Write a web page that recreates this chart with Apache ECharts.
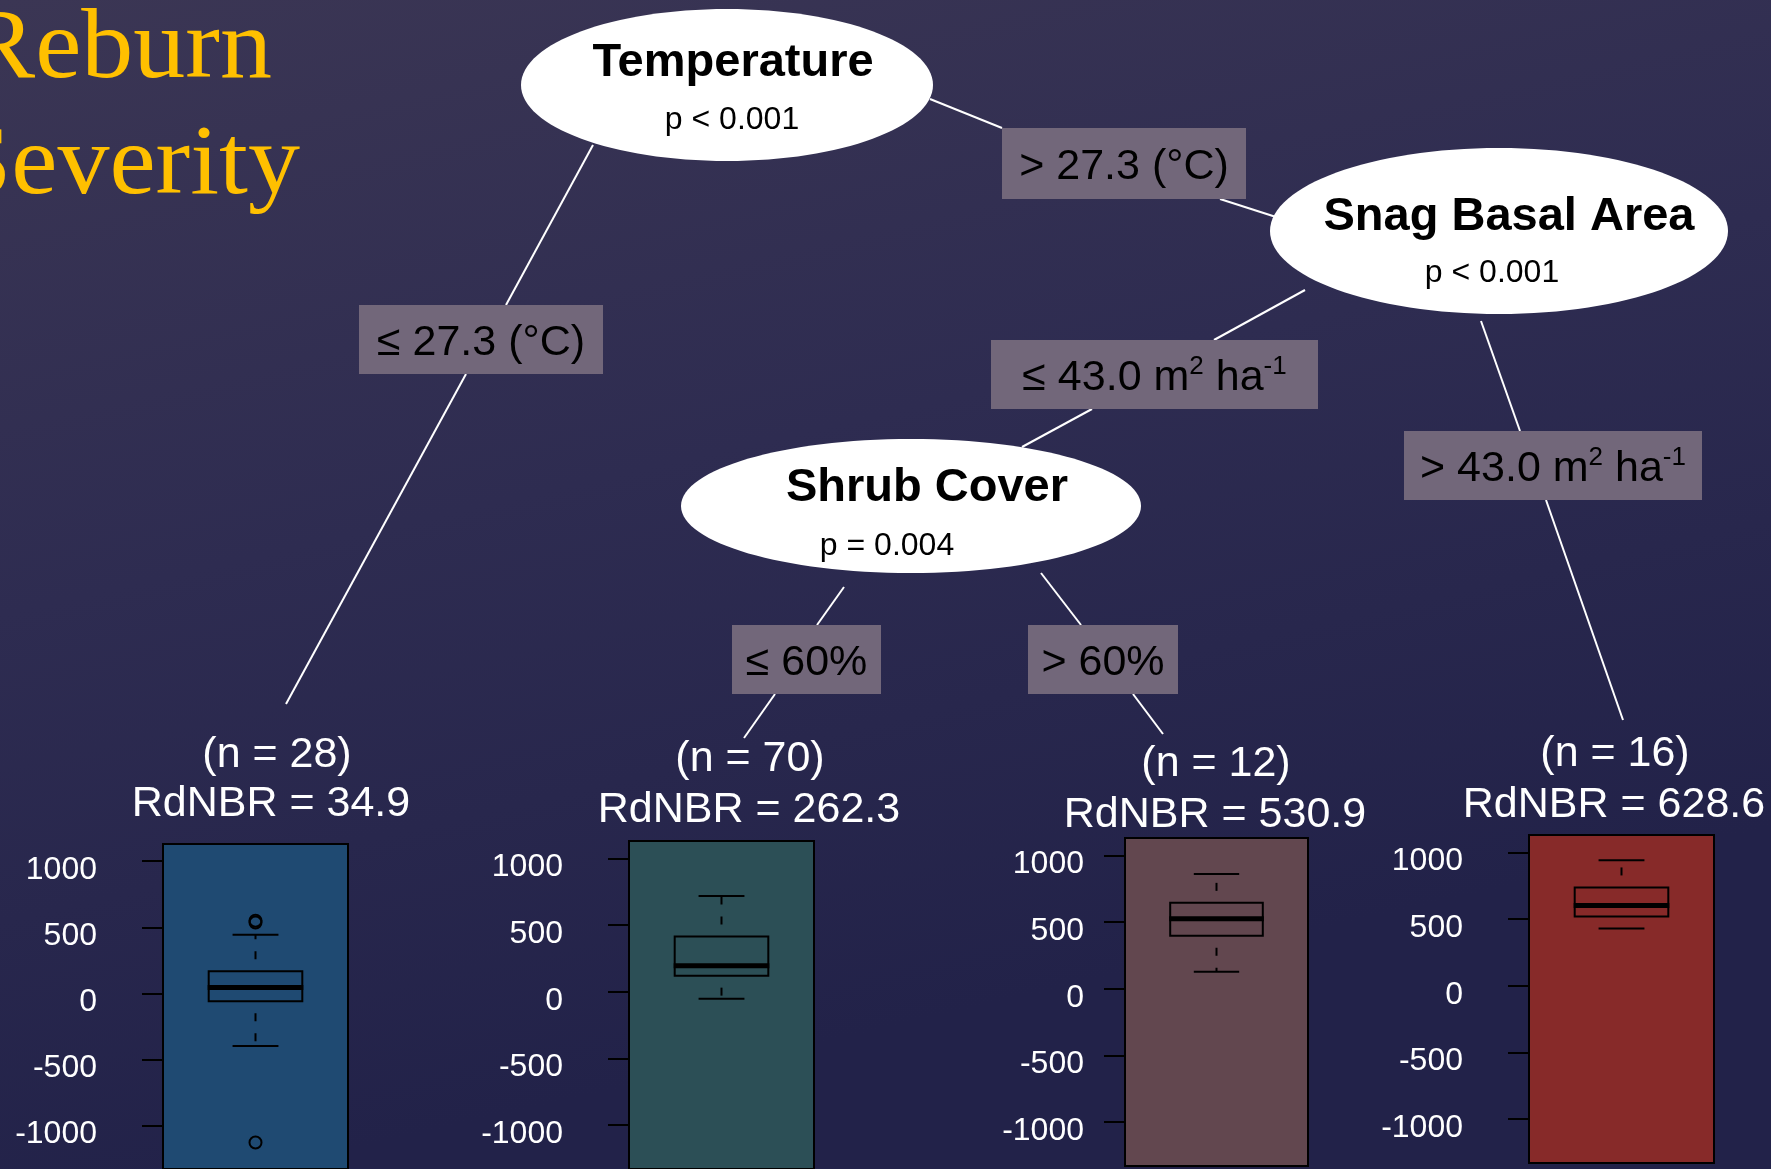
<!DOCTYPE html>
<html>
<head>
<meta charset="utf-8">
<title>Reburn Severity</title>
<script src="https://cdn.jsdelivr.net/npm/echarts@6/dist/echarts.min.js"></script>
<style>
  html, body { margin: 0; padding: 0; background: #2e2c50; }
  #chart { width: 1771px; height: 1169px; }
</style>
</head>
<body>
<div id="chart"></div>
<script>
// ---- Terminal node data (RdNBR distributions) ----
const leafN = [28, 70, 12, 16];
const leafMean = [34.9, 262.3, 530.9, 628.6];
// five-number summaries per terminal node
const whiskerLow  = [-398, -53, 127, 429];
const quartile1   = [-60, 121, 397, 519];
const medians     = [45, 196, 524, 601];
const quartile3   = [168, 415, 644, 737];
const whiskerHigh = [444, 717, 861, 940];
const outliers    = [[536, 549, -1128], [], [], []];
const yTicks = [-1000, -500, 0, 500, 1000];
const yRange = [-1328, 1130];

// ---- Split nodes and branch labels ----
const splitVars = ['Temperature', 'Snag Basal Area', 'Shrub Cover'];
const splitP = ['p < 0.001', 'p < 0.001', 'p = 0.004'];
const branchLabels = [
  '{t|≤ 27.3 (°C)}',
  '{t|> 27.3 (°C)}',
  '{t|≤ 43.0 m}{s|2}{t| ha}{s|-1}',
  '{t|> 43.0 m}{s|2}{t| ha}{s|-1}',
  '{t|≤ 60%}',
  '{t|> 60%}'
];
const titleLines = ['Reburn', 'Severity'];

// ---- Layout ----
const panelFill = ['#1f4a72', '#2c4f56', '#62474f', '#872a29'];
const panels = [
  { left: 163,  top: 844, width: 185, margin: 66 },
  { left: 629,  top: 841, width: 185, margin: 66 },
  { left: 1125, top: 838, width: 183, margin: 41 },
  { left: 1529, top: 835, width: 185, margin: 66 }
];
const panelHeight = 328;

const ellipses = [
  { cx: 727,  cy: 85,  rx: 206, ry: 76, ty: 63,  py: 120.5, tx: 733,  px: 732 },
  { cx: 1499, cy: 231, rx: 229, ry: 83, ty: 217, py: 273,   tx: 1509, px: 1492 },
  { cx: 911,  cy: 506, rx: 230, ry: 67, ty: 488, py: 546,   tx: 927,  px: 887 }
];
const boxes = [
  { x: 359,  y: 305, w: 244, h: 69 },
  { x: 1002, y: 128, w: 244, h: 71 },
  { x: 991,  y: 340, w: 327, h: 69 },
  { x: 1404, y: 431, w: 298, h: 69 },
  { x: 732,  y: 625, w: 149, h: 69 },
  { x: 1028, y: 625, w: 150, h: 69 }
];
const edges = [
  [593, 145, 506, 305], [466, 374, 286, 704],
  [930, 99, 1002, 128], [1220, 199, 1276, 217],
  [1305, 290, 1214, 340], [1092, 409, 1022, 447],
  [1481, 321, 1520, 431], [1546, 500, 1623, 720],
  [844, 587, 817, 625], [775, 694, 744, 738],
  [1041, 573, 1081, 625], [1133, 694, 1163, 734]
];
const leafText = [
  { x1: 277,  y1: 755, x2: 271,  y2: 804 },
  { x1: 750,  y1: 759, x2: 749,  y2: 810 },
  { x1: 1216, y1: 764, x2: 1215, y2: 815 },
  { x1: 1615, y1: 754, x2: 1614, y2: 805 }
];

const sans = '"Liberation Sans", Arial, Helvetica, sans-serif';
const chart = echarts.init(document.getElementById('chart'), null, { renderer: 'canvas' });

// ---- Graphic layer: background, title, tree ----
const graphics = [];
graphics.push({
  type: 'rect', z: -100, silent: true,
  shape: { x: 0, y: 0, width: 1771, height: 1169 },
  style: {
    fill: new echarts.graphic.LinearGradient(0, 0, 0.15, 1, [
      { offset: 0, color: '#3b3654' },
      { offset: 0.5, color: '#2e2c51' },
      { offset: 1, color: '#222249' }
    ])
  }
});
graphics.push({
  type: 'text', x: 272, y: 51, scaleX: 1.04, z: 10,
  style: { text: titleLines[0], align: 'right', verticalAlign: 'middle',
           font: '100px "Liberation Serif", "Times New Roman", serif', fill: '#ffc000' }
});
graphics.push({
  type: 'text', x: 300, y: 167, scaleX: 1.04, z: 10,
  style: { text: titleLines[1], align: 'right', verticalAlign: 'middle',
           font: '100px "Liberation Serif", "Times New Roman", serif', fill: '#ffc000' }
});
edges.forEach(e => graphics.push({
  type: 'line', z: 10, silent: true,
  shape: { x1: e[0], y1: e[1], x2: e[2], y2: e[3] },
  style: { stroke: '#ffffff', lineWidth: 2 }
}));
ellipses.forEach((el, i) => {
  graphics.push({
    type: 'ellipse', z: 11,
    shape: { cx: el.cx, cy: el.cy, rx: el.rx, ry: el.ry },
    style: { fill: '#ffffff' }
  });
  graphics.push({
    type: 'text', x: el.tx, y: el.ty, z: 12,
    style: { text: splitVars[i], align: 'center', verticalAlign: 'middle',
             font: 'bold 47px ' + sans, fill: '#000000' }
  });
  graphics.push({
    type: 'text', x: el.px, y: el.py, z: 12,
    style: { text: splitP[i], align: 'center', verticalAlign: 'middle',
             font: '32px ' + sans, fill: '#000000' }
  });
});
boxes.forEach((b, i) => {
  graphics.push({
    type: 'rect', z: 11,
    shape: { x: b.x, y: b.y, width: b.w, height: b.h },
    style: { fill: '#72677a' }
  });
  graphics.push({
    type: 'text', x: b.x + b.w / 2, y: b.y + b.h / 2 + 4, z: 12,
    style: {
      text: branchLabels[i], align: 'center', verticalAlign: 'middle',
      rich: {
        t: { fontFamily: sans, fontSize: 43, lineHeight: 50, fill: '#000000' },
        s: { fontFamily: sans, fontSize: 26, lineHeight: 40, verticalAlign: 'top', fill: '#000000' }
      }
    }
  });
});
leafText.forEach((t, i) => {
  graphics.push({
    type: 'text', x: t.x1, y: t.y1, z: 12,
    style: { text: '(n = ' + leafN[i] + ')', align: 'center', verticalAlign: 'middle',
             font: '43px ' + sans, fill: '#ffffff' }
  });
  graphics.push({
    type: 'text', x: t.x2, y: t.y2, z: 12,
    style: { text: 'RdNBR = ' + leafMean[i].toFixed(1), align: 'center', verticalAlign: 'middle',
             font: '43px ' + sans, fill: '#ffffff' }
  });
});

// ---- Boxplot drawing through the axes ----
function renderBox(params, api) {
  const x = api.value(0);
  const pLow = api.coord([x, api.value(1)]);
  const pQ1 = api.coord([x, api.value(2)]);
  const pMed = api.coord([x, api.value(3)]);
  const pQ3 = api.coord([x, api.value(4)]);
  const pHigh = api.coord([x, api.value(5)]);
  const band = api.size([1, 0])[0];
  const half = band * 0.253;
  const cap = band * 0.124;
  const cx = pMed[0];
  const solid = { stroke: '#000000', lineWidth: 2 };
  const dashed = { stroke: '#000000', lineWidth: 2, lineDash: [8, 12], lineDashOffset: 8 };
  return {
    type: 'group',
    children: [
      { type: 'line', shape: { x1: cx, y1: pQ3[1], x2: cx, y2: pHigh[1] }, style: dashed },
      { type: 'line', shape: { x1: cx, y1: pQ1[1], x2: cx, y2: pLow[1] }, style: dashed },
      { type: 'line', shape: { x1: cx - cap, y1: pHigh[1], x2: cx + cap, y2: pHigh[1] }, style: solid },
      { type: 'line', shape: { x1: cx - cap, y1: pLow[1], x2: cx + cap, y2: pLow[1] }, style: solid },
      { type: 'rect', shape: { x: cx - half, y: pQ3[1], width: 2 * half, height: pQ1[1] - pQ3[1] },
        style: { stroke: '#000000', lineWidth: 2, fill: 'transparent' } },
      { type: 'line', shape: { x1: cx - half - 1, y1: pMed[1], x2: cx + half + 1, y2: pMed[1] },
        style: { stroke: '#000000', lineWidth: 5 } }
    ]
  };
}

const grids = [], xAxes = [], yAxes = [], series = [];
panels.forEach((p, i) => {
  grids.push({
    left: p.left, top: p.top, width: p.width, height: panelHeight,
    show: true, backgroundColor: panelFill[i], borderColor: '#000000', borderWidth: 2,
    containLabel: false
  });
  xAxes.push({ type: 'category', gridIndex: i, data: ['node' + (i + 1)], show: false });
  yAxes.push({
    type: 'value', gridIndex: i, min: yRange[0], max: yRange[1],
    axisLine: { show: false },
    splitLine: { show: false },
    axisTick: { show: true, inside: false, length: 21, customValues: yTicks,
                lineStyle: { color: '#000000', width: 2 } },
    axisLabel: { show: true, customValues: yTicks, margin: p.margin, color: '#ffffff',
                 fontFamily: sans, fontSize: 32, verticalAlign: 'top', lineHeight: 18,
                 formatter: v => String(v) }
  });
  series.push({
    type: 'custom', xAxisIndex: i, yAxisIndex: i, silent: true,
    renderItem: renderBox,
    encode: { x: 0, y: [1, 2, 3, 4, 5] },
    data: [[0, whiskerLow[i], quartile1[i], medians[i], quartile3[i], whiskerHigh[i]]]
  });
  series.push({
    type: 'scatter', xAxisIndex: i, yAxisIndex: i, silent: true,
    symbol: 'circle', symbolSize: 12,
    itemStyle: { color: 'transparent', borderColor: '#000000', borderWidth: 2, opacity: 1 },
    data: outliers[i].map(v => [0, v])
  });
});

chart.setOption({
  animation: false,
  grid: grids,
  xAxis: xAxes,
  yAxis: yAxes,
  series: series,
  graphic: { elements: graphics }
});
</script>
</body>
</html>
